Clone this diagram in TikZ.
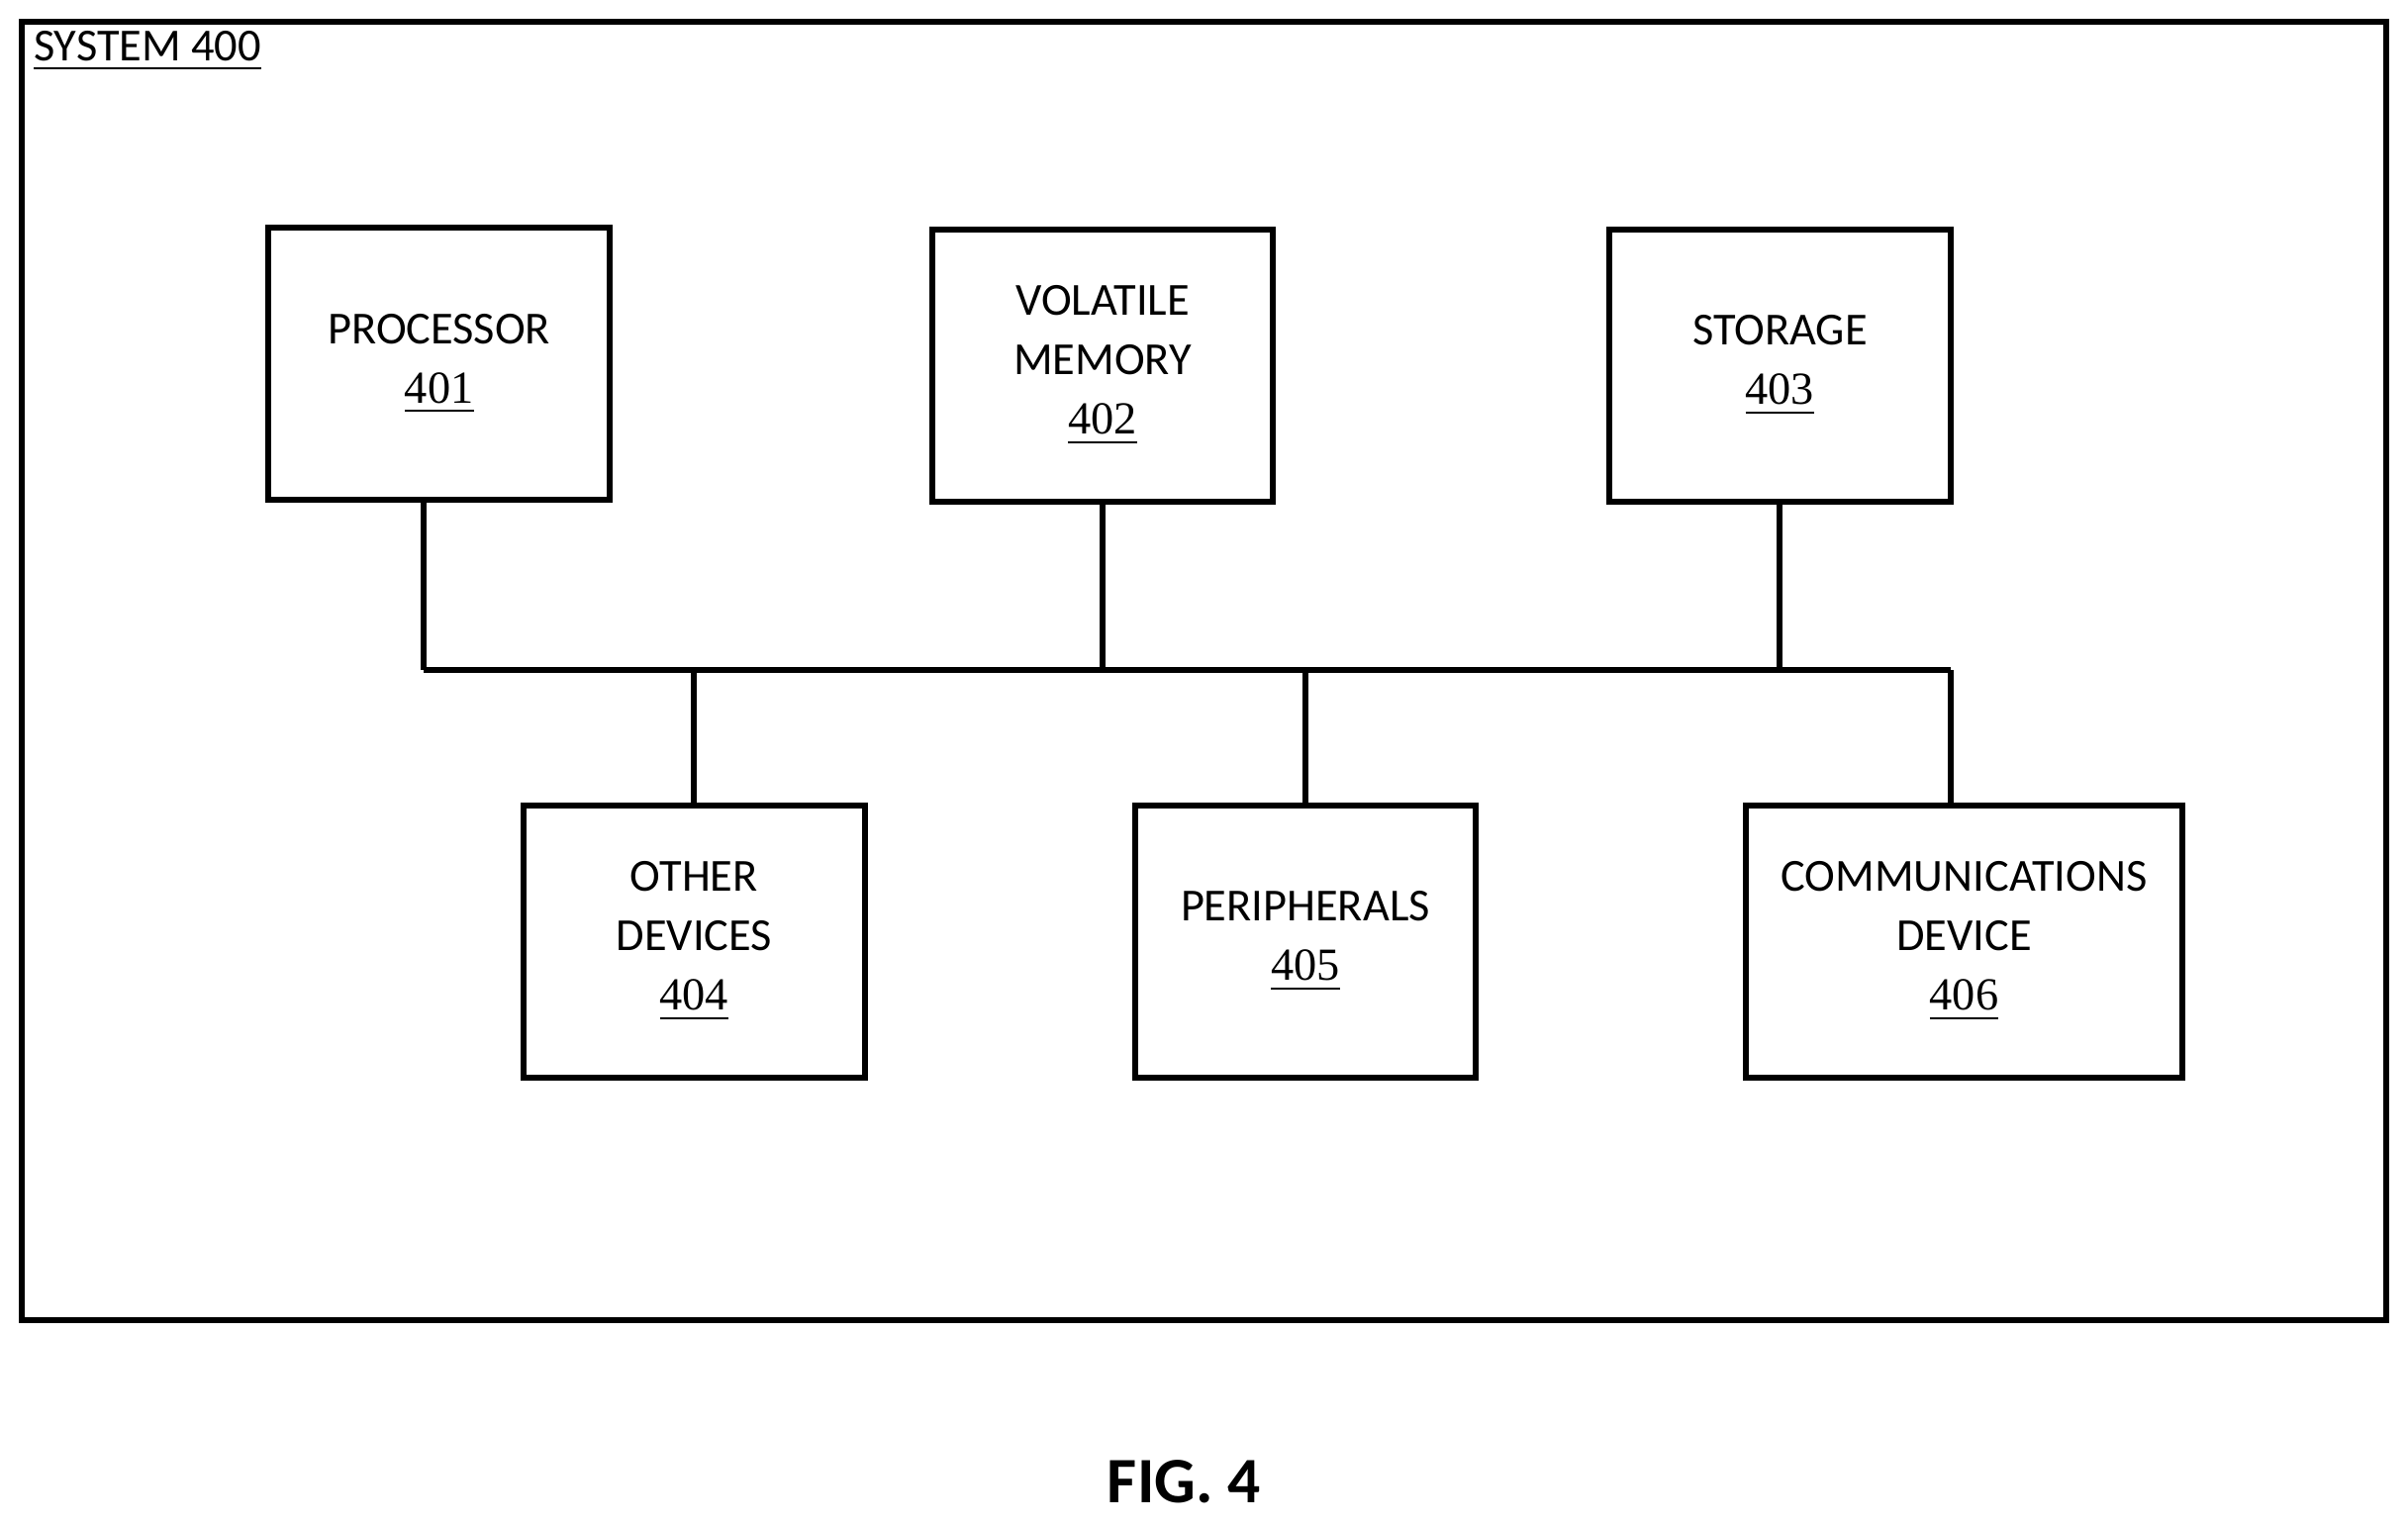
\documentclass[tikz,border=0pt]{standalone}
\usepackage{fontspec}
\setmainfont{Carlito}
\newfontfamily\numfont{Liberation Serif}
\newcommand{\refnum}[1]{{\numfont\underline{#1}}}
\tikzset{blk/.style={draw,line width=1.1pt,minimum width=2.22cm,minimum height=1.77cm,align=center,font=\fontsize{8.5}{11}\selectfont,inner sep=1pt}}
\begin{document}
\begin{tikzpicture}[x=0.01cm,y=-0.01cm,line width=1.1pt]
 \useasboundingbox (0,0) rectangle (1568,993);
 \draw (14,14) rectangle (1554,860);
 \node[anchor=north west,font=\fontsize{8.5}{10}\selectfont,inner sep=0] (sys) at (20,18) {\underline{SYSTEM 400}};
 \node[blk] (proc) at (286,237) {PROCESSOR\\\refnum{401}};
 \node[blk] (vmem) at (718,238) {VOLATILE\\MEMORY\\\refnum{402}};
 \node[blk] (stor) at (1159,238) {STORAGE\\\refnum{403}};
 \node[blk] (oth) at (452,613) {OTHER\\DEVICES\\\refnum{404}};
 \node[blk] (peri) at (850,613) {PERIPHERALS\\\refnum{405}};
 \node[blk,minimum width=2.84cm] (comm) at (1279,613) {COMMUNICATIONS\\DEVICE\\\refnum{406}};
 \coordinate (busL) at (276,436);
 \coordinate (busR) at (1270,436);
 \draw (busL) -- (busR);
 \draw (proc.south -| busL) -- (busL);
 \draw (vmem.south) -- (vmem.south |- busL);
 \draw (stor.south) -- (stor.south |- busL);
 \draw (oth.north) -- (oth.north |- busL);
 \draw (peri.north) -- (peri.north |- busL);
 \draw (comm.north -| busR) -- (busR);
 \node[font=\fontsize{12}{14}\selectfont\bfseries] (fig) at (771,965) {FIG. 4};
\end{tikzpicture}
\end{document}
